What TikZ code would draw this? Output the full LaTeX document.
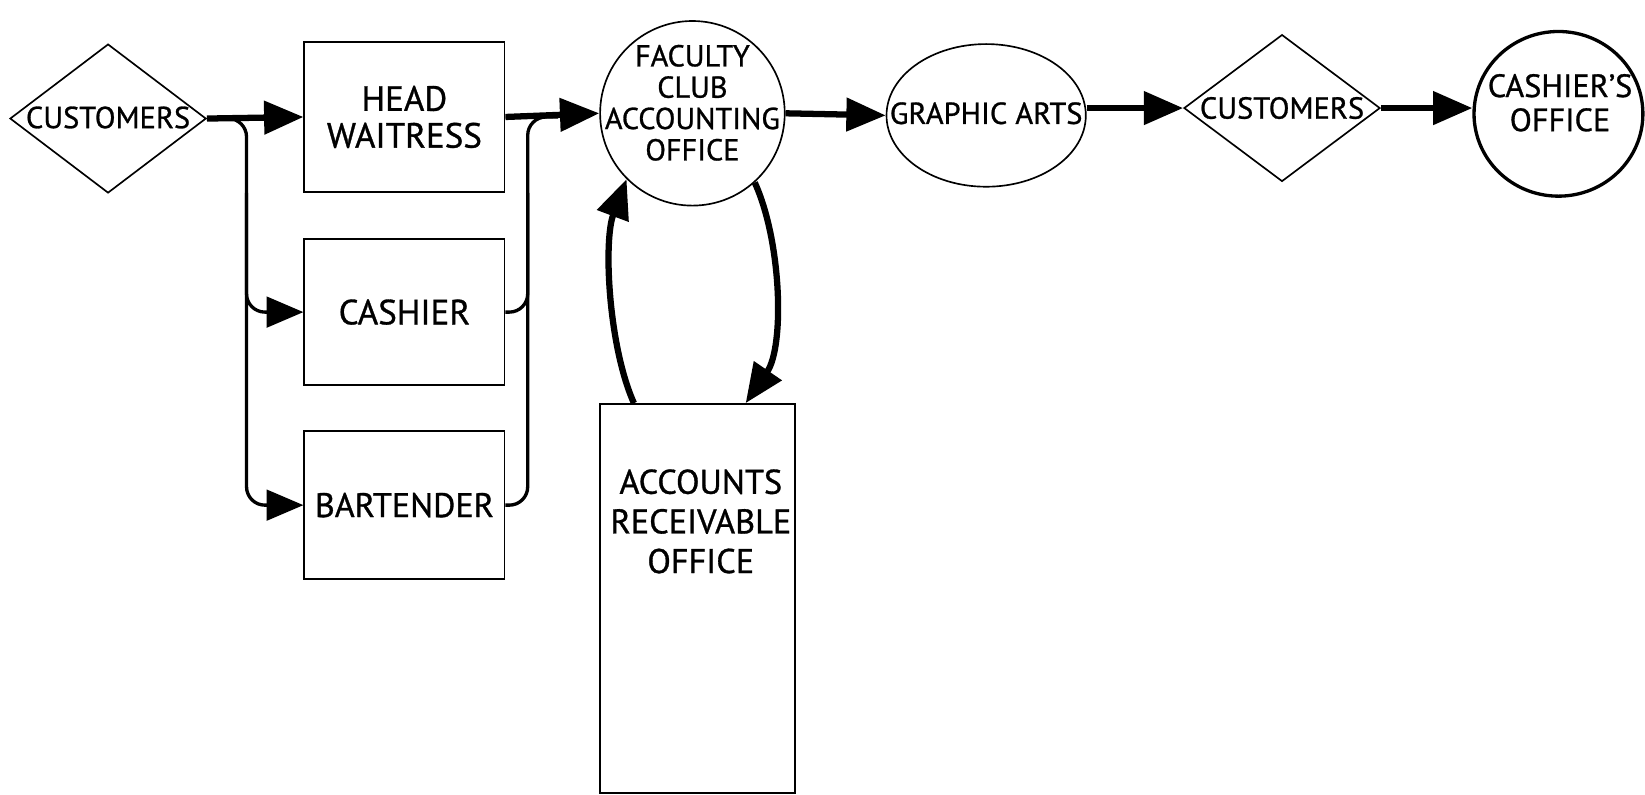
\documentclass[tikz,border=0pt]{standalone}
\usepackage{fontspec}
\setmainfont{PT Sans}[FakeBold=0.9]
\usetikzlibrary{arrows.meta,shapes.geometric,calc}
\begin{document}
\begin{tikzpicture}[x=0.02cm,y=-0.02cm,
  font=\fontsize{16}{21}\selectfont,
  box/.style={draw,line width=0.9pt,rectangle,inner sep=0pt,align=center},
  dia/.style={draw,line width=0.9pt,diamond,inner sep=0pt},
  oval/.style={draw,line width=0.9pt,ellipse,inner sep=0pt},
  lbl/.style={align=center,inner sep=0pt},
  flow/.style={line width=3.4pt,-{Triangle[length=0.75cm,width=0.62cm]}},
  bus/.style={line width=1.8pt,rounded corners=0.35cm},
  busarrow/.style={bus,-{Triangle[length=0.7cm,width=0.58cm]}},
]
\useasboundingbox (0,0) rectangle (1568,757);

% shapes
\node[dia,minimum width=3.74cm,minimum height=2.84cm] (c1) at (103,113) {};
\node[lbl,font=\fontsize{16.5}{20}\selectfont] (c1t) at (103,112) {CUSTOMERS};
\node[box,minimum width=3.82cm,minimum height=2.86cm,font=\fontsize{19}{20}\selectfont] (hw) at (385.5,111.5) {HEAD\\WAITRESS};
\node[box,minimum width=3.82cm,minimum height=2.78cm,font=\fontsize{19}{20}\selectfont] (ca) at (385.5,297.5) {CASHIER};
\node[box,minimum width=3.82cm,minimum height=2.82cm,font=\fontsize{18.5}{20}\selectfont] (bt) at (385.5,481.5) {BARTENDER};
\node[oval,minimum width=3.52cm,minimum height=3.52cm] (fc) at (660,108) {};
\node[lbl,font=\fontsize{16.4}{17}\selectfont] (fct) at (660,98) {FACULTY\\CLUB\\ACCOUNTING\\OFFICE};
\node[oval,minimum width=3.8cm,minimum height=2.72cm] (ga) at (940,110) {};
\node[lbl,font=\fontsize{16.5}{18}\selectfont] (gat) at (940,108) {GRAPHIC ARTS};
\node[dia,minimum width=3.74cm,minimum height=2.8cm] (c2) at (1222,103) {};
\node[lbl,font=\fontsize{16.5}{20}\selectfont] (c2t) at (1222,103) {CUSTOMERS};
\node[oval,line width=1.8pt,minimum width=3.22cm,minimum height=3.14cm] (co) at (1485.5,108.5) {};
\node[lbl,font=\fontsize{17.5}{18.5}\selectfont] (cot) at (1487,98) {CASHIER’S\\OFFICE};
\node[box,minimum width=3.72cm,minimum height=7.42cm] (ar) at (665,570.5) {};
\node[lbl,font=\fontsize{18.6}{21.5}\selectfont] (art) at (668,497) {ACCOUNTS\\RECEIVABLE\\OFFICE};

% bus lines
\coordinate (lx) at (235,0);
\coordinate (rx) at (503,0);
\draw[busarrow] (c1.east) -| (lx |- bt.west) -- (bt.west);
\draw[busarrow] (lx |- hw.south) |- (ca.west);
\draw[bus] (bt.east) -| (rx |- hw.east) -- ($(hw.east)+(50,0)$);
\draw[bus] (ca.east) -| (rx |- hw.south);

% main flow
\draw[flow] (c1.east) -- (hw.west);
\draw[flow] (hw.east) -- (fc.west);
\draw[flow] (fc.east) -- (ga.west);
\draw[flow] (ga.east |- c2.west) -- (c2.west);
\draw[flow] (c2.east) -- (co.west |- c2.east);

% loop with accounts receivable
\draw[flow] ($(ar.north west)+(33,0)$) .. controls (580,330) and (575,230) .. (fc.225);
\draw[flow] (fc.-48) .. controls (745,230) and (748,330) .. ($(ar.north east)+(-48,0)$);
\end{tikzpicture}
\end{document}
